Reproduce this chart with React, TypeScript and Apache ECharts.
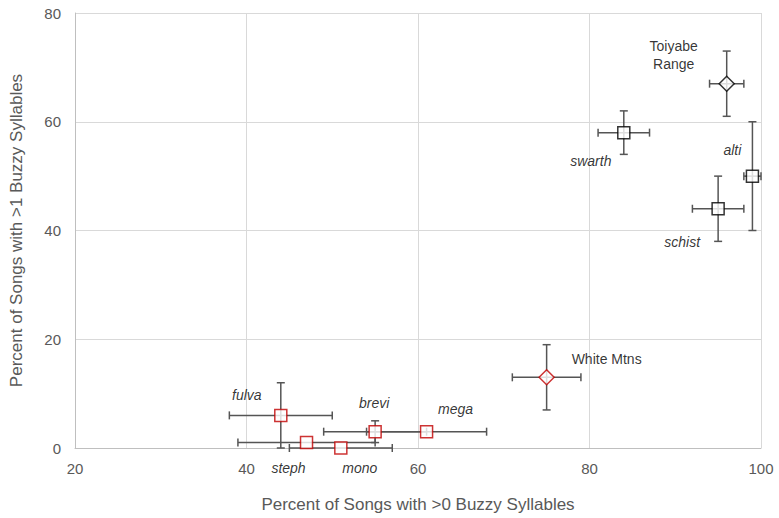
import React, { useEffect, useRef } from "react";
import * as echarts from "echarts";

// name, x, y, xErr, yErr, group ("black" | "red"), symbol
const names = ["Toiyabe Range", "swarth", "alti", "schist", "White Mtns", "fulva", "steph", "mono", "brevi", "mega"];
const xValues = [96, 84, 99, 95, 75, 44, 47, 51, 55, 61];
const yValues = [67, 58, 50, 44, 13, 6, 1, 0, 3, 3];
const xErrors = [2, 3, 1, 3, 4, 6, 8, 6, 6, 7];
const yErrors = [6, 4, 10, 6, 6, 6, 0, 0, 2, 0];
const groups = ["black", "black", "black", "black", "red", "red", "red", "red", "red", "red"];
const shapes = ["diamond", "rect", "rect", "rect", "diamond", "rect", "rect", "rect", "rect", "rect"];
const italicFlags = [false, true, true, true, false, true, true, true, true, true];
const labelOffsets: [number, number][] = [
  [-53, -29], [-33, 28], [-20, -26], [-36, 33], [60, -18],
  [-34, -20], [-18, 25], [19, 20], [-1, -29], [29, -23],
];

const xTicks = [20, 40, 60, 80, 100];
const yTicks = [0, 20, 40, 60, 80];

const FONT = "'Liberation Sans', Arial, sans-serif";
const ERR_COLOR = "#555555";

export default function App() {
  const ref = useRef<HTMLDivElement>(null);
  useEffect(() => {
    document.body.style.margin = "0";
    if (!ref.current) return;
    const chart = echarts.init(ref.current, undefined, { renderer: "svg" });

    const errData = names.map((n, i) => [xValues[i], yValues[i], xErrors[i], yErrors[i]]);
    const pointData = names.map((n, i) => ({
      name: n,
      value: [xValues[i], yValues[i]],
      symbol: shapes[i],
      symbolSize: shapes[i] === "diamond" ? 15 : 12,
      itemStyle: {
        color: "#ffffff",
        borderColor: groups[i] === "red" ? "#c00000" : "#000000",
        borderWidth: 1.5,
      },
      label: {
        show: true,
        formatter: n === "Toiyabe Range" ? "Toiyabe\nRange" : n,
        position: "inside",
        offset: labelOffsets[i],
        color: "#000000",
        fontSize: 14,
        fontFamily: FONT,
        fontStyle: italicFlags[i] ? "italic" : "normal",
        align: "center",
        verticalAlign: "middle",
        lineHeight: 18,
      },
    }));

    const cap = 4;
    chart.setOption({
      animation: false,
      grid: { left: 72, right: 18, top: 13, bottom: 66, containLabel: false },
      xAxis: {
        type: "value",
        min: xTicks[0],
        max: xTicks[xTicks.length - 1],
        interval: 20,
        name: "Percent of Songs with >0 Buzzy Syllables",
        nameLocation: "middle",
        nameGap: 48,
        nameTextStyle: { color: "#595959", fontSize: 17, fontFamily: FONT },
        axisLine: { show: true, lineStyle: { color: "#bfbfbf", width: 1 } },
        axisTick: { show: false },
        axisLabel: { color: "#595959", fontSize: 15, fontFamily: FONT, margin: 13 },
        splitLine: { show: true, lineStyle: { color: "#d9d9d9", width: 1 } },
      },
      yAxis: {
        type: "value",
        min: yTicks[0],
        max: yTicks[yTicks.length - 1],
        interval: 20,
        name: "Percent of Songs with >1 Buzzy Syllables",
        nameLocation: "middle",
        nameGap: 50,
        nameTextStyle: { color: "#595959", fontSize: 17, fontFamily: FONT },
        axisLine: { show: true, lineStyle: { color: "#bfbfbf", width: 1 } },
        axisTick: { show: false },
        axisLabel: { color: "#595959", fontSize: 15, fontFamily: FONT, margin: 14 },
        splitLine: { show: true, lineStyle: { color: "#d9d9d9", width: 1 } },
      },
      series: [
        {
          type: "custom",
          z: 1,
          silent: true,
          data: errData,
          renderItem: (params: any, api: any) => {
            const x = api.value(0);
            const y = api.value(1);
            const xe = api.value(2);
            const ye = api.value(3);
            const c = api.coord([x, y]);
            const l = api.coord([x - xe, y]);
            const r = api.coord([x + xe, y]);
            const t = api.coord([x, y + ye]);
            const b = api.coord([x, y - ye]);
            const style = { stroke: ERR_COLOR, lineWidth: 1.5 };
            const children: any[] = [];
            if (xe > 0) {
              children.push({ type: "line", shape: { x1: l[0], y1: c[1], x2: r[0], y2: c[1] }, style });
              children.push({ type: "line", shape: { x1: l[0], y1: c[1] - cap, x2: l[0], y2: c[1] + cap }, style });
              children.push({ type: "line", shape: { x1: r[0], y1: c[1] - cap, x2: r[0], y2: c[1] + cap }, style });
            }
            if (ye > 0) {
              children.push({ type: "line", shape: { x1: c[0], y1: t[1], x2: c[0], y2: b[1] }, style });
              children.push({ type: "line", shape: { x1: c[0] - cap, y1: t[1], x2: c[0] + cap, y2: t[1] }, style });
              children.push({ type: "line", shape: { x1: c[0] - cap, y1: b[1], x2: c[0] + cap, y2: b[1] }, style });
            }
            return { type: "group", children };
          },
        },
        {
          type: "scatter",
          z: 5,
          data: pointData,
        },
      ],
    });
    return () => chart.dispose();
  }, []);
  return <div ref={ref} style={{ width: 779, height: 518 }} />;
}
